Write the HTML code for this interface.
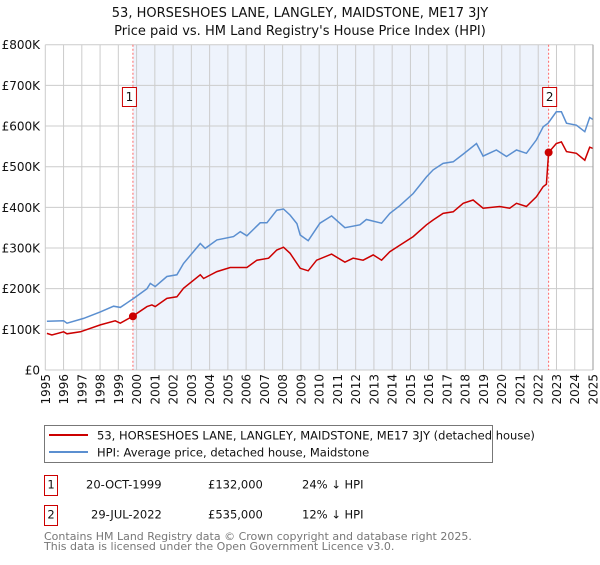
<!DOCTYPE html>
<html><head><meta charset="utf-8"><style>
body{margin:0;background:#fff;}
svg{font-family:"DejaVu Sans","Liberation Sans",sans-serif;}
</style></head><body>
<svg id="chart" width="600" height="560" viewBox="0 0 600 560">
<text x="300" y="17" text-anchor="middle" font-size="13" fill="#111">53, HORSESHOES LANE, LANGLEY, MAIDSTONE, ME17 3JY</text>
<text x="300" y="35" text-anchor="middle" font-size="13" fill="#111">Price paid vs. HM Land Registry's House Price Index (HPI)</text>
<g id="plot"></g>
<g>
<rect x="44.5" y="425.5" width="448" height="37" fill="#fff" stroke="#777"/>
<line x1="49" y1="435" x2="88" y2="435" stroke="#cc0000" stroke-width="2"/>
<text x="97" y="439.5" font-size="11.5" fill="#111">53, HORSESHOES LANE, LANGLEY, MAIDSTONE, ME17 3JY (detached house)</text>
<line x1="49" y1="452" x2="88" y2="452" stroke="#5b8fd0" stroke-width="2"/>
<text x="97" y="456.5" font-size="11.5" fill="#111">HPI: Average price, detached house, Maidstone</text>
</g>
<g font-size="11.5" fill="#111">
<rect x="44.5" y="475.5" width="13" height="20" fill="#fff" stroke="#cc0000"/>
<text x="51" y="488.5" text-anchor="middle">1</text>
<text x="86" y="488.5">20-OCT-1999</text>
<text x="208" y="488.5">£132,000</text>
<text x="302" y="488.5">24% ↓ HPI</text>
<rect x="44.5" y="505.5" width="13" height="20" fill="#fff" stroke="#cc0000"/>
<text x="51" y="518.5" text-anchor="middle">2</text>
<text x="91" y="518.5">29-JUL-2022</text>
<text x="208" y="518.5">£535,000</text>
<text x="302" y="518.5">12% ↓ HPI</text>
</g>
<text x="44" y="540" font-size="11" fill="#777">Contains HM Land Registry data © Crown copyright and database right 2025.</text>
<text x="44" y="550" font-size="11" fill="#777">This data is licensed under the Open Government Licence v3.0.</text>
</svg>
<script>
const hpiYears=[1995.09,1996.0,1996.19,1997.1,1998.01,1998.74,1999.11,1999.84,2000.57,2000.75,2001.02,2001.66,2002.21,2002.57,2003.49,2003.76,2004.4,2005.31,2005.68,2006.04,2006.77,2007.14,2007.68,2008.05,2008.41,2008.78,2008.96,2009.4,2010.04,2010.68,2011.41,2012.23,2012.59,2013.42,2013.87,2014.42,2015.15,2015.88,2016.24,2016.79,2017.34,2017.89,2018.62,2018.98,2019.71,2020.26,2020.81,2021.35,2021.9,2022.27,2022.54,2022.99,2023.27,2023.55,2024.09,2024.55,2024.82,2025.0];
const hpiValues=[120,121,115,127,143,157,154,176,200,213,205,230,234,262,311,299,320,328,340,330,362,362,393,396,381,360,332,318,361,379,350,357,370,361,385,404,434,475,492,508,512,531,557,526,541,525,541,533,566,598,607,635,635,607,602,586,621,616];
const priceYears=[1995.09,1995.36,1996.0,1996.19,1996.92,1998.01,1998.83,1999.11,1999.78,2000.57,2000.84,2001.02,2001.66,2002.21,2002.57,2003.49,2003.67,2004.4,2005.13,2006.04,2006.59,2007.23,2007.68,2008.05,2008.41,2008.96,2009.4,2009.86,2010.68,2011.41,2011.86,2012.41,2012.96,2013.42,2013.87,2014.42,2015.15,2015.88,2016.24,2016.79,2017.34,2017.89,2018.43,2018.98,2019.89,2020.44,2020.81,2021.35,2021.9,2022.27,2022.45,2022.57,2022.99,2023.27,2023.55,2024.09,2024.55,2024.82,2025.0];
const priceValues=[90,86,94,89,94,111,121,115,132,156,160,156,176,180,201,234,225,242,252,252,270,275,295,302,287,250,244,270,285,265,275,270,283,270,291,307,328,357,369,385,389,410,418,398,402,398,410,402,426,451,457,535,557,561,537,533,516,548,545];
const saleYears=[1999.8,2022.57];
const saleValues=[132,535];
const saleLabels=["1","2"];
const yTicks=[0,100,200,300,400,500,600,700,800];
const yTickLabels=["£0","£100K","£200K","£300K","£400K","£500K","£600K","£700K","£800K"];
const xTicks=[1995,1996,1997,1998,1999,2000,2001,2002,2003,2004,2005,2006,2007,2008,2009,2010,2011,2012,2013,2014,2015,2016,2017,2018,2019,2020,2021,2022,2023,2024,2025];

const X0=45.3,X1=593,Y0=370,Y1=44.7;
const xs=y=>X0+(y-1995)/30*(X1-X0);
const ys=v=>Y0-v/800*(Y0-Y1);
const NS="http://www.w3.org/2000/svg";
const g=document.getElementById('plot');
function mk(t,a){const e=document.createElementNS(NS,t);for(const k in a)e.setAttribute(k,a[k]);g.appendChild(e);return e;}
let e;
e=mk('rect',{x:xs(saleYears[0]),y:Y1,width:xs(saleYears[1])-xs(saleYears[0]),height:Y0-Y1,fill:'#eef3fc'});


yTicks.forEach((t,i)=>{
 e=mk('line',{x1:X0,x2:X1,y1:ys(t),y2:ys(t),stroke:'#ccc','stroke-width':1});
 
 
 e=mk('text',{x:40,y:ys(t)+4.5,'text-anchor':'end','font-size':'12',fill:'#111'});
 e.textContent=yTickLabels[i];
 
 
});
xTicks.forEach(t=>{
 e=mk('line',{x1:xs(t),x2:xs(t),y1:Y1,y2:Y0,stroke:'#ccc','stroke-width':1});
 
 
 e=mk('text',{x:0,y:0,'text-anchor':'end','font-size':'12',fill:'#111',transform:`translate(${xs(t)+4.5},374) rotate(-90)`});
 e.textContent=t;
 
 
});
saleYears.forEach((y,i)=>{
 e=mk('line',{x1:xs(y),x2:xs(y),y1:Y1,y2:Y0,stroke:'#ff6666','stroke-dasharray':'2,2','stroke-width':1});
 
 
 const bx=xs(y)-(i==0?10.5:6);
 e=mk('rect',{x:bx,y:87.5,width:14,height:19,fill:'#fff',stroke:'#cc0000'});
 
 
 e=mk('text',{x:bx+7,y:101,'text-anchor':'middle','font-size':'12',fill:'#111'});
 e.textContent=saleLabels[i];
 
 
});
function pts(a,b){return a.map((y,i)=>xs(y).toFixed(1)+','+ys(b[i]).toFixed(1)).join(' ');}
e=mk('polyline',{points:pts(hpiYears,hpiValues),fill:'none',stroke:'#5b8fd0','stroke-width':1.5});


e=mk('polyline',{points:pts(priceYears,priceValues),fill:'none',stroke:'#cc0000','stroke-width':1.5});


saleYears.forEach((y,i)=>{
 e=mk('circle',{cx:xs(y),cy:ys(saleValues[i]),r:4,fill:'#cc0000'});
 
 
});
e=mk('line',{x1:X1,x2:X1,y1:Y1,y2:Y0,stroke:'#999','stroke-width':1});


</script>
</body></html>
